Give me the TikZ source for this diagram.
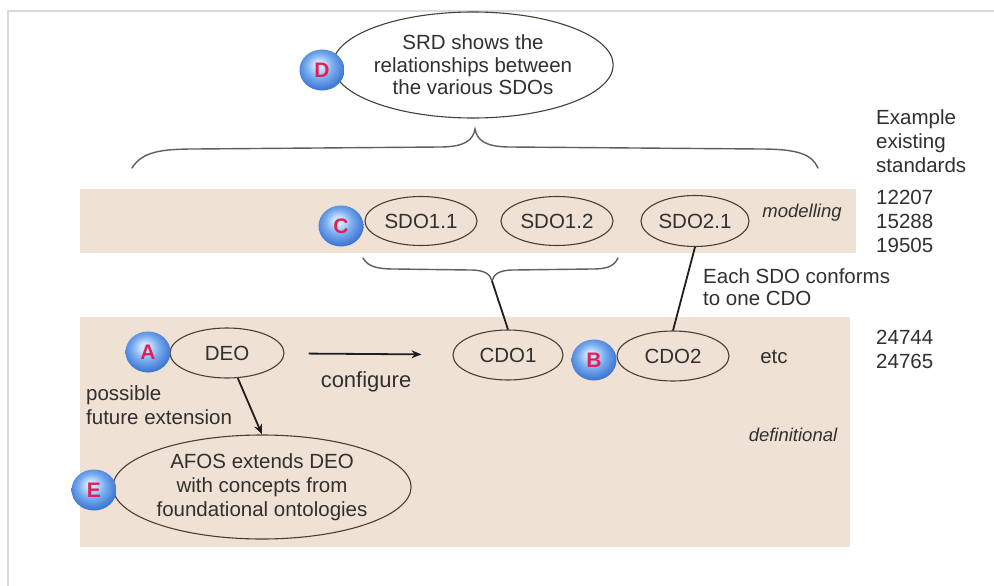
\documentclass[tikz,border=0pt]{standalone}
\usepackage{fontspec}
\setmainfont{Liberation Sans}
\usetikzlibrary{shapes.geometric,arrows.meta}

% palette
\definecolor{bandcol}{RGB}{239,225,212}
\definecolor{ovalline}{RGB}{72,62,56}
\definecolor{txt}{RGB}{48,48,48}
\definecolor{bracegray}{RGB}{95,95,95}
\definecolor{framegray}{RGB}{218,218,218}
\definecolor{badgehi}{RGB}{205,228,255}
\definecolor{badgemid}{RGB}{120,172,238}
\definecolor{badgelo}{RGB}{62,118,212}
\definecolor{badgeedge}{RGB}{45,92,185}
\definecolor{badgeletter}{RGB}{226,32,88}

% glossy blue marker ball
\pgfdeclareradialshading{glossball}{\pgfpoint{-4bp}{7bp}}{%
  color(0bp)=(badgehi); color(5bp)=(badgehi); color(15bp)=(badgemid);
  color(27bp)=(badgelo); color(34bp)=(badgeedge); color(50bp)=(badgeedge)}

\newcommand\txtsize[2]{\fontsize{#1}{#2}\selectfont}

\tikzset{
  band/.style={fill=bandcol, draw=none},
  oval/.style={ellipse, draw=ovalline, line width=1.1pt, inner sep=0pt,
               text=txt, font=\txtsize{20.5}{24}},
  badge/.style={ellipse, minimum width=45pt, minimum height=41pt, inner sep=0pt,
                shade, shading=glossball, text=badgeletter,
                font=\bfseries\txtsize{21}{24}},
  lbl/.style={text=txt, inner sep=0pt, font=\txtsize{20.5}{24}},
  tag/.style={text=txt, inner sep=0pt, font=\itshape\txtsize{18.5}{22}},
  brace/.style={draw=bracegray, line width=1.4pt, line cap=round},
  link/.style={draw=black!88, line width=1.8pt},
  arrowlink/.style={link, -{Stealth[length=10pt,width=8pt]}}
}

\begin{document}
\begin{tikzpicture}[x=1pt,y=-1pt]
\useasboundingbox (0,0) rectangle (994,586);
\fill[white] (0,0) rectangle (994,586);
\draw[framegray, line width=1.5pt] (994,11) -- (8,11) -- (8,586);

% layer bands
\fill[band] (80,189) rectangle (856,253);
\fill[band] (80,317) rectangle (850,547);

% SRD
\node[oval, minimum width=246pt, minimum height=106pt, align=center,
      font=\txtsize{20.5}{22.5}] (srd) at (473,65)
  {SRD shows the\\relationships between\\the various SDOs};
\node[badge] (bd) at (322,70) {D};

% brace over the modelling layer
\draw[brace] (132,168) .. controls (142,152) and (160,149) .. (195,149)
  -- (440,147) .. controls (465,147) and (473,140) .. (475,129)
  .. controls (477,140) and (485,147) .. (510,147)
  -- (760,149) .. controls (800,149) and (812,155) .. (818,168);

% modelling layer
\node[oval, minimum width=112pt, minimum height=49pt] (sdo11) at (421,221) {SDO1.1};
\node[oval, minimum width=112pt, minimum height=49pt] (sdo12) at (557,221) {SDO1.2};
\node[oval, minimum width=108pt, minimum height=51pt] (sdo21) at (695,221) {SDO2.1};
\node[badge] (bc) at (341,226) {C};
\node[tag] (mod) at (802,213) {modelling};

% brace under SDO1.x
\draw[brace] (363,258) .. controls (368,267) and (378,269) .. (395,269)
  -- (470,270) .. controls (485,270) and (490,274) .. (492,281)
  .. controls (494,274) and (499,270) .. (514,270)
  -- (592,269) .. controls (608,269) and (614,266) .. (618,258);
\coordinate (tip1) at (492,281);

\node[lbl, anchor=west, align=left, font=\txtsize{20.5}{22}] (conf) at (703,287)
  {Each SDO conforms\\to one CDO};

% definitional layer
\node[oval, minimum width=114pt, minimum height=50pt] (deo) at (227,353) {DEO};
\node[badge] (ba) at (148,352) {A};
\node[oval, minimum width=110pt, minimum height=50pt] (cdo1) at (508,355) {CDO1};
\node[oval, minimum width=112pt, minimum height=50pt] (cdo2) at (673,356) {CDO2};
\node[badge] (bb) at (594,360) {B};
\node[lbl] (etc) at (774,357) {etc};
\node[tag] (def) at (793,435) {definitional};

\node[oval, minimum width=294pt, minimum height=104pt, align=center] (afos) at (262,487)
  {AFOS extends DEO\\with concepts from\\foundational ontologies};
\node[badge] (be) at (94,490) {E};

\node[lbl, anchor=west, align=left] (fut) at (86,405) {possible\\future extension};
\node[lbl, font=\txtsize{22}{24}] (cfg) at (366,382) {configure};

% connectors
\draw[link] (tip1) -- (cdo1.north);
\draw[link] (sdo21.south) -- (cdo2.north);
\draw[arrowlink, shorten <=24pt, shorten >=31pt] (deo) -- (cdo1);
\draw[arrowlink] (deo) -- (afos.north);

% standards column
\node[lbl, anchor=west, align=left] (exs) at (876,141) {Example\\existing\\standards};
\node[lbl, anchor=west, align=left] (std1) at (876,221) {12207\\15288\\19505};
\node[lbl, anchor=west, align=left] (std2) at (876,349) {24744\\24765};
\end{tikzpicture}
\end{document}
